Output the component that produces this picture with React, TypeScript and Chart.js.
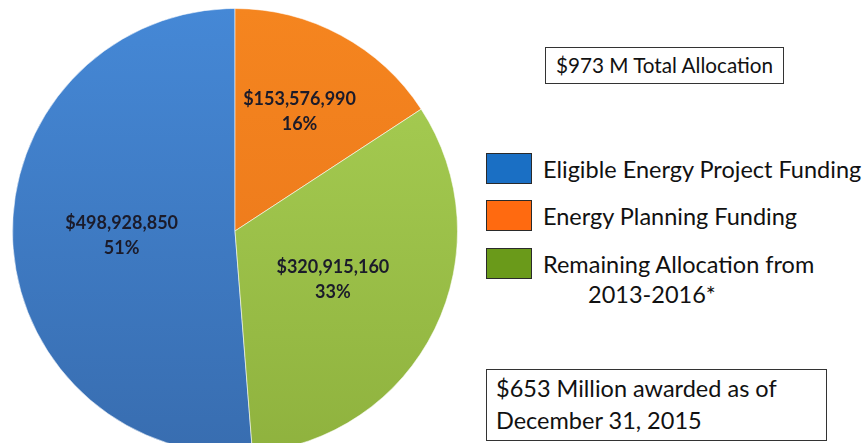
import React, { useEffect, useRef } from "react";
import { Chart, registerables } from "chart.js";

Chart.register(...registerables);

const categories = [
  "Eligible Energy Project Funding",
  "Energy Planning Funding",
  "Remaining Allocation from 2013-2016*",
];
const amounts = [498928850, 153576990, 320915160];
const percentLabels = ["51%", "16%", "33%"];
const legendLines = [
  ["Eligible Energy Project Funding"],
  ["Energy Planning Funding"],
  ["Remaining Allocation from", "2013-2016*"],
];
const totalText = "$973 M Total Allocation";
const awardedLines = ["$653 Million awarded as of", "December 31, 2015"];

const sliceGradients = [
  ["#4588d6", "#386db0"],
  ["#f5851f", "#e8741a"],
  ["#a9d055", "#8fb23e"],
];
const legendColors = ["#1a6fc4", "#ff6a10", "#6a9a1a"];
const labelRadius = [0.51, 0.61, 0.49];

const FONT = "Lato, 'Open Sans', sans-serif";

const sliceLabelPlugin = {
  id: "sliceLabels",
  afterDatasetsDraw(chart: any) {
    const { ctx } = chart;
    const meta = chart.getDatasetMeta(0);
    ctx.save();
    ctx.fillStyle = "#1b1b2a";
    ctx.font = `bold 18px ${FONT}`;
    ctx.textAlign = "center";
    ctx.textBaseline = "middle";
    meta.data.forEach((arc: any, i: number) => {
      const p = arc.getProps(["x", "y", "startAngle", "endAngle", "outerRadius"], true);
      const mid = (p.startAngle + p.endAngle) / 2;
      const r = p.outerRadius * labelRadius[i];
      const cx = p.x + Math.cos(mid) * r;
      const cy = p.y + Math.sin(mid) * r;
      ctx.fillText("$" + amounts[i].toLocaleString("en-US"), cx, cy - 12);
      ctx.fillText(percentLabels[i], cx, cy + 13);
    });
    ctx.restore();
  },
};

export default function App() {
  const ref = useRef<HTMLCanvasElement | null>(null);
  useEffect(() => {
    if (!ref.current) return;
    const total = amounts.reduce((a, b) => a + b, 0);
    const chart = new Chart(ref.current, {
      type: "pie",
      data: {
        labels: categories,
        datasets: [
          {
            data: amounts,
            backgroundColor: (c: any) => {
              const area = c.chart.chartArea;
              const g = sliceGradients[c.dataIndex];
              if (!area) return g[0];
              const grad = c.chart.ctx.createLinearGradient(0, area.top, 0, area.bottom);
              grad.addColorStop(0, g[0]);
              grad.addColorStop(1, g[1]);
              return grad;
            },
            borderColor: "rgba(255,255,255,0.55)",
            borderWidth: 1,
          },
        ],
      },
      options: {
        responsive: false,
        animation: false,
        rotation: -(amounts[0] / total) * 360,
        layout: { padding: { left: 12, right: 12, top: 8, bottom: 8 } },
        plugins: {
          legend: { display: false },
          tooltip: { enabled: false },
        },
      },
      plugins: [sliceLabelPlugin],
    });
    return () => chart.destroy();
  }, []);

  const textStyle: React.CSSProperties = {
    position: "absolute",
    fontFamily: FONT,
    color: "#111",
    whiteSpace: "nowrap",
  };

  return (
    <div
      style={{
        position: "fixed",
        left: 0,
        top: 0,
        width: 867,
        height: 443,
        overflow: "hidden",
        background: "#fff",
      }}
    >
      <canvas
        ref={ref}
        width={470}
        height={462}
        style={{ position: "absolute", left: 0, top: 0, width: 470, height: 462 }}
      />
      <div
        style={{
          ...textStyle,
          left: 545,
          top: 47,
          width: 237,
          height: 35,
          border: "1px solid #333",
          fontSize: 20.7,
          lineHeight: "35px",
          textAlign: "center",
        }}
      >
        {totalText}
      </div>
      {legendLines.map((lines, i) => {
        const top = [153, 200, 248][i];
        return (
          <React.Fragment key={i}>
            <div
              style={{
                position: "absolute",
                left: 486,
                top,
                width: 44,
                height: 29,
                background: legendColors[i],
                border: "1px solid #2a2a2a",
              }}
            />
            {lines.map((t, j) => (
              <div
                key={j}
                style={{
                  ...textStyle,
                  left: j === 0 ? 543 : 588,
                  top: top + 1 + j * 30,
                  fontSize: 23.5,
                  lineHeight: "30px",
                }}
              >
                {t}
              </div>
            ))}
          </React.Fragment>
        );
      })}
      <div
        style={{
          ...textStyle,
          left: 486,
          top: 369,
          width: 339,
          height: 70,
          border: "1px solid #333",
        }}
      >
        {awardedLines.map((t, j) => (
          <div
            key={j}
            style={{
              position: "absolute",
              left: 9,
              top: 2 + j * 32,
              fontSize: 23.5,
              lineHeight: "32px",
            }}
          >
            {t}
          </div>
        ))}
      </div>
    </div>
  );
}
